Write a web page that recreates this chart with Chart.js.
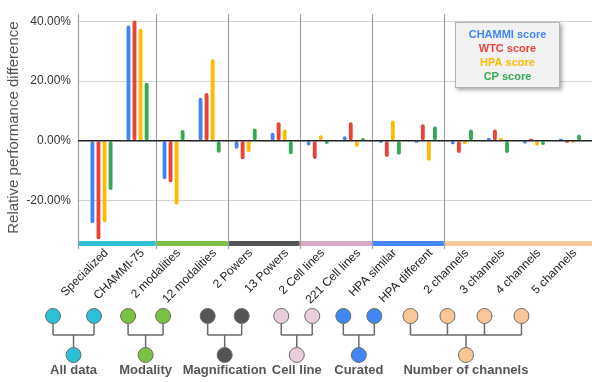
<!DOCTYPE html>
<html>
<head>
<meta charset="utf-8">
<script src="https://cdn.jsdelivr.net/npm/chart.js@4.4.1/dist/chart.umd.min.js"></script>
<style>
  html, body { margin: 0; padding: 0; background: #ffffff; }
  #wrap { width: 592px; height: 382px; position: relative; }
</style>
</head>
<body>
<div id="wrap"><canvas id="chart" width="592" height="382"></canvas></div>
<script>
// Benchmark subsets compared against the full-data baseline
const categories = ['Specialized', 'CHAMMI-75', '2 modalities', '12 modalities', '2 Powers', '13 Powers',
  '2 Cell lines', '221 Cell lines', 'HPA similar', 'HPA different',
  '2 channels', '3 channels', '4 channels', '5 channels'];

// Relative performance difference (%) per score
const chammiScore = [-27.6, 38.6, -12.9, 14.4, -2.7, 2.7, -1.6, 1.5, -0.4, -0.2, -1.2, 0.9, -0.9, 0.5];
const wtcScore    = [-33.0, 40.3, -13.9, 16.0, -6.2, 6.2, -6.1, 6.2, -5.4, 5.5, -4.1, 3.8, 0.4, -0.2];
const hpaScore    = [-27.3, 37.5, -21.4, 27.3, -3.8, 3.8, 1.8, -2.1, 6.8, -6.7, -1.1, 0.9, -1.7, -0.2];
const cpScore     = [-16.5, 19.4, 3.6, -4.0, 4.1, -4.5, -1.0, 0.8, -4.7, 4.8, 3.8, -4.1, -1.4, 2.0];

const seriesNames = ['CHAMMI score', 'WTC score', 'HPA score', 'CP score'];
const seriesColors = ['#4285f4', '#ea4335', '#fbbc04', '#34a853'];

const yTicks = [-20, 0, 20, 40];

// Grouping of the subsets (tree diagram under the axis)
const groupNames  = ['All data', 'Modality', 'Magnification', 'Cell line', 'Curated', 'Number of channels'];
const groupSizes  = [2, 2, 2, 2, 2, 4];
const groupColors = ['#2bc0d6', '#7cc142', '#555555', '#e9cfdc', '#4285f4', '#f9c795'];
const bandColors  = ['#2bc0d6', '#7cc142', '#555555', '#d9aac5', '#4285f4', '#fbc99a'];

const FONT = "'Liberation Sans', Arial, sans-serif";

function toPoints(values) {
  return values.map((v, i) => ({ x: i, y: v }));
}

const allSeries = [chammiScore, wtcScore, hpaScore, cpScore];

// Group bands and separators along the x axis
const groupBandsPlugin = {
  id: 'groupBands',
  beforeDatasetsDraw(chart) {
    const { ctx, chartArea } = chart;
    const xs = chart.scales.x;
    let start = 0;
    ctx.save();
    for (let g = 0; g < groupSizes.length; g++) {
      const left = g === 0 ? chartArea.left : xs.getPixelForValue(start - 0.5);
      const end = start + groupSizes[g];
      const right = g === groupSizes.length - 1 ? chartArea.right : xs.getPixelForValue(end - 0.5);
      ctx.fillStyle = bandColors[g];
      ctx.fillRect(left, chartArea.bottom, right - left, 5);
      ctx.strokeStyle = '#9e9e9e';
      ctx.lineWidth = 1.2;
      ctx.beginPath();
      ctx.moveTo(Math.round(left) + 0.5, chartArea.top);
      ctx.lineTo(Math.round(left) + 0.5, chartArea.bottom + 8);
      ctx.stroke();
      start = end;
    }
    ctx.restore();
  },
  afterDatasetsDraw(chart) {
    const { ctx, chartArea } = chart;
    const y0 = chart.scales.y.getPixelForValue(0);
    ctx.save();
    ctx.strokeStyle = '#222222';
    ctx.lineWidth = 1.4;
    ctx.beginPath();
    ctx.moveTo(chartArea.left, y0);
    ctx.lineTo(chartArea.right, y0);
    ctx.stroke();
    ctx.restore();
  }
};

// Boxed legend in the upper right
const boxLegendPlugin = {
  id: 'boxLegend',
  afterDraw(chart) {
    const { ctx } = chart;
    const bx = 455, by = 22, bw = 105, bh = 66;
    ctx.save();
    ctx.shadowColor = 'rgba(0,0,0,0.35)';
    ctx.shadowBlur = 4;
    ctx.shadowOffsetX = 1.5;
    ctx.shadowOffsetY = 2;
    ctx.fillStyle = '#f2f2f2';
    ctx.fillRect(bx, by, bw, bh);
    ctx.shadowColor = 'transparent';
    ctx.strokeStyle = '#b5b5b5';
    ctx.lineWidth = 1;
    ctx.strokeRect(bx + 0.5, by + 0.5, bw - 1, bh - 1);
    ctx.font = 'bold 11px ' + FONT;
    ctx.textAlign = 'center';
    ctx.textBaseline = 'middle';
    chart.data.datasets.forEach((ds, i) => {
      ctx.fillStyle = ds.backgroundColor;
      ctx.fillText(ds.label, bx + bw / 2, by + 13 + i * 14);
    });
    ctx.restore();
  }
};

// Tree diagram linking each subset pair to its grouping
const treePlugin = {
  id: 'tree',
  afterDraw(chart) {
    const { ctx } = chart;
    const xs = chart.scales.x;
    const r = 7.5, yTop = 316, yJoin = 335, yBottom = 355, yLabel = 370;
    // horizontal nudge of each tree and spacing between its leaves
    const nudge = [0, 0, 7, 7, -3, -4];
    const spread = [41, 35, 34, 31, 31, 37];
    let start = 0;
    ctx.save();
    for (let g = 0; g < groupSizes.length; g++) {
      const n = groupSizes[g];
      const mid = xs.getPixelForValue(start + (n - 1) / 2) - 46 + nudge[g];
      const xsChild = [];
      for (let k = 0; k < n; k++) {
        xsChild.push(mid + (k - (n - 1) / 2) * spread[g]);
      }
      ctx.strokeStyle = '#6b6b6b';
      ctx.lineWidth = 1.5;
      ctx.beginPath();
      xsChild.forEach(x => { ctx.moveTo(x, yTop + r); ctx.lineTo(x, yJoin); });
      ctx.moveTo(xsChild[0], yJoin);
      ctx.lineTo(xsChild[xsChild.length - 1], yJoin);
      ctx.moveTo(mid, yJoin);
      ctx.lineTo(mid, yBottom - r);
      ctx.stroke();
      ctx.lineWidth = 1;
      ctx.fillStyle = groupColors[g];
      const circles = xsChild.map(x => [x, yTop]).concat([[mid, yBottom]]);
      circles.forEach(([cx, cy]) => {
        ctx.beginPath();
        ctx.arc(cx, cy, r, 0, Math.PI * 2);
        ctx.fill();
        ctx.stroke();
      });
      ctx.fillStyle = '#555555';
      ctx.font = 'bold 13px ' + FONT;
      ctx.textAlign = 'center';
      ctx.textBaseline = 'middle';
      ctx.fillText(groupNames[g], mid, yLabel);
      start += n;
    }
    ctx.restore();
  }
};

const chart = new Chart(document.getElementById('chart'), {
  type: 'bar',
  data: {
    datasets: allSeries.map((values, i) => ({
      label: seriesNames[i],
      data: toPoints(values),
      backgroundColor: seriesColors[i],
      borderWidth: 0,
      borderRadius: 2,
      borderSkipped: false,
      categoryPercentage: 0.672,
      barPercentage: 0.64,
      minBarLength: 2
    }))
  },
  options: {
    responsive: false,
    animation: false,
    events: [],
    layout: { padding: { top: 8, left: 0, right: 0, bottom: 0 } },
    plugins: {
      legend: { display: false },
      tooltip: { enabled: false }
    },
    scales: {
      x: {
        type: 'linear',
        bounds: 'data',
        offset: false,
        min: -0.652,
        max: 13.61,
        afterBuildTicks(scale) { scale.ticks = categories.map((c, i) => ({ value: i })); },
        afterFit(scale) { scale.height = 141; scale.paddingLeft = 0; scale.paddingRight = 0; },
        grid: { display: false, drawTicks: false, offset: false },
        border: { display: false },
        ticks: {
          autoSkip: false,
          maxRotation: 45,
          minRotation: 45,
          padding: 5,
          labelOffset: 5,
          color: '#222222',
          font: { family: FONT, size: 12 },
          callback: (v) => categories[v]
        }
      },
      y: {
        min: -33.6,
        max: 42.4,
        afterFit(scale) { scale.width = 78; },
        afterBuildTicks(scale) { scale.ticks = yTicks.map(v => ({ value: v })); },
        border: { display: false },
        grid: {
          color: (c) => c.tick && c.tick.value === 0 ? '#222222' : '#d3d3d3',
          lineWidth: 1,
          drawTicks: false
        },
        ticks: {
          padding: 7,
          color: '#333333',
          font: { family: FONT, size: 12 },
          callback: (v) => v.toFixed(2) + '%'
        },
        title: {
          display: true,
          text: 'Relative performance difference',
          color: '#555555',
          font: { family: FONT, size: 15 },
          padding: { top: 5, bottom: 0 }
        }
      }
    }
  },
  plugins: [groupBandsPlugin, boxLegendPlugin, treePlugin]
});
</script>
</body>
</html>
